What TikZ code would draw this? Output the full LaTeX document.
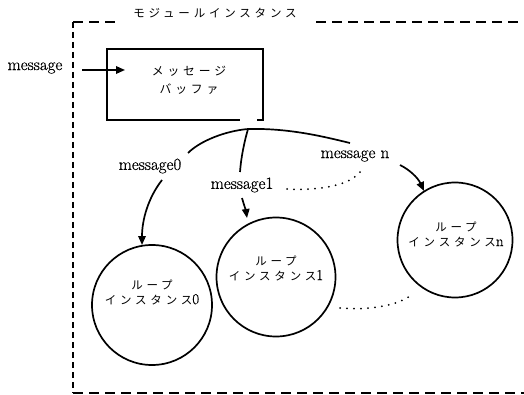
\documentclass[tikz,border=0pt]{standalone}
\usepackage{fontspec}
\newfontfamily\jp[LetterSpace=33]{Noto Sans CJK JP}
\newfontfamily\latf[FakeBold=0.6]{Latin Modern Roman}
\usetikzlibrary{arrows.meta}
\begin{document}
\begin{tikzpicture}[x=1pt,y=-1pt,
  thickline/.style={line width=1.7pt},
  arr/.style={line width=1.7pt,-{Triangle[length=9pt,width=7.5pt]}},
  dotline/.style={line width=2pt,line cap=round,dash pattern=on 0pt off 7pt},
  hdash/.style={line width=1.8pt,dash pattern=on 10pt off 6pt},
  vdash/.style={line width=1.8pt,dash pattern=on 6pt off 4pt},
  lat/.style={font=\latf\fontsize{17}{19}\selectfont, inner sep=0pt},
  jptext/.style={font=\jp\fontsize{11.5}{15}\selectfont, align=center, inner sep=0pt},
  loopc/.style={circle, draw, line width=1.7pt, inner sep=0pt}]
\useasboundingbox (0,0) rectangle (524,395);
% frame
\draw[hdash] (73,22) -- (121,22);
\draw[hdash] (316,22) -- (530,22);
\draw[vdash] (73,22) -- (73,393);
\draw[hdash] (73,393) -- (530,393);
\node[jptext, font=\jp\fontsize{11.5}{15}\selectfont] (title) at (215,13) {モジュールインスタンス};
% buffer
\node[minimum width=156pt, minimum height=71pt, inner sep=0pt] (buf) at (185,84.5) {};
\node[jptext, font=\jp\fontsize{11.8}{18}\selectfont] (buftext) at (189,80) {メッセージ\\バッファ};
\draw[thickline] ([xshift=133pt]buf.south west) -- (buf.south west) -- (buf.north west) -- (buf.north east) -- (buf.south east) -- ([xshift=-6pt]buf.south east);
% input
\node[lat] (msg) at (35,68) {message};
\coordinate (inS) at (82,70);
\coordinate (inE) at (125,70);
\draw[arr] (inS) -- (inE);
% labels
\node[lat] (m0) at (150,166) {message0};
\node[lat] (m1) at (242,185) {message1};
\node[lat] (mn) at (355,156) {message n};
% circles
\node[loopc, minimum size=120pt] (c0) at (152,305) {};
\node[loopc, minimum size=119pt] (c1) at (276,277) {};
\node[loopc, minimum size=115pt] (cn) at (455,240) {};
\node[jptext] (t0) at (152,292) {ループ\\インスタンス{\latf\fontsize{15}{15}\selectfont 0}};
\node[jptext] (t1) at (276,268) {ループ\\インスタンス{\latf\fontsize{15}{15}\selectfont 1}};
\node[jptext] (tn) at (456,234) {ループ\\インスタンス{\latf\fontsize{15}{15}\selectfont n}};
% fan out
\coordinate (fan) at (248,129);
\coordinate (e0) at (188,153);
\coordinate (e1) at (240,172);
\coordinate (en) at (350,143);
\draw[thickline] (fan) .. controls (225,131) and (200,141) .. (e0);
\draw[thickline] (fan) .. controls (244,143) and (241,158) .. (e1);
\draw[thickline] (fan) .. controls (290,128) and (325,137) .. (en);
% arrows to circles
\coordinate (s0) at (162,180);
\coordinate (p0) at (142,245);
\coordinate (s1) at (242,198);
\coordinate (p1) at (247,218);
\coordinate (sn) at (400,165);
\coordinate (pn) at (424,191);
\draw[arr] (s0) .. controls (148,198) and (142,220) .. (p0);
\draw[arr] (s1) .. controls (244,205) and (246,211) .. (p1);
\draw[arr] (sn) .. controls (410,170) and (418,178) .. (pn);
% dotted
\coordinate (d1s) at (287,189);
\coordinate (d1e) at (360,172);
\coordinate (d2s) at (340,308);
\coordinate (d2e) at (413,293);
\draw[dotline] (d1s) .. controls (320,191) and (350,185) .. (d1e);
\draw[dotline] (d2s) .. controls (375,311) and (405,303) .. (d2e);
\end{tikzpicture}
\end{document}
